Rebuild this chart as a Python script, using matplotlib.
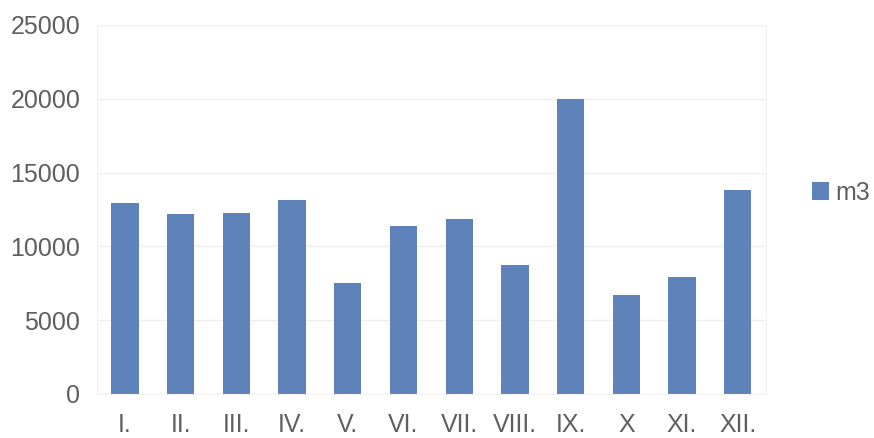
import matplotlib.pyplot as plt
import numpy as np

months = ["I.", "II.", "III.", "IV.", "V.", "VI.", "VII.", "VIII.", "IX.", "X", "XI.", "XII."]
m3 = [12950, 12200, 12250, 13150, 7550, 11350, 11850, 8750, 20000, 6700, 7950, 13800]

bar_color = "#5e83ba"
text_color = "#5f5f5f"

plt.rcParams["font.family"] = ["Liberation Sans", "DejaVu Sans"]

fig = plt.figure(figsize=(8.74, 4.38), dpi=100)
ax = fig.add_axes([0.111, 0.1005, 0.765, 0.8425])

x = np.arange(len(months))
ax.bar(x, m3, width=0.49, color=bar_color, label="m3", zorder=2)

ax.set_xlim(-0.5, len(months) - 0.5)
ax.set_ylim(0, 25000)
ax.set_yticks(np.arange(0, 25001, 5000))
ax.set_xticks(x)
ax.set_xticklabels(months)

ax.grid(axis="y", color="#efefef", linewidth=1, zorder=0)
for s in ax.spines.values():
    s.set_color("#f2f2f2")
ax.tick_params(axis="both", length=0, labelsize=18, labelcolor=text_color)
ax.tick_params(axis="y", pad=12)
ax.tick_params(axis="x", pad=14)

fig.legend(loc="center left", bbox_to_anchor=(0.929, 0.56), frameon=False,
           fontsize=18, labelcolor=text_color, handlelength=0.7, handleheight=0.7,
           handletextpad=0.25, borderpad=0, borderaxespad=0)

fig.savefig("out.png", dpi=100)
